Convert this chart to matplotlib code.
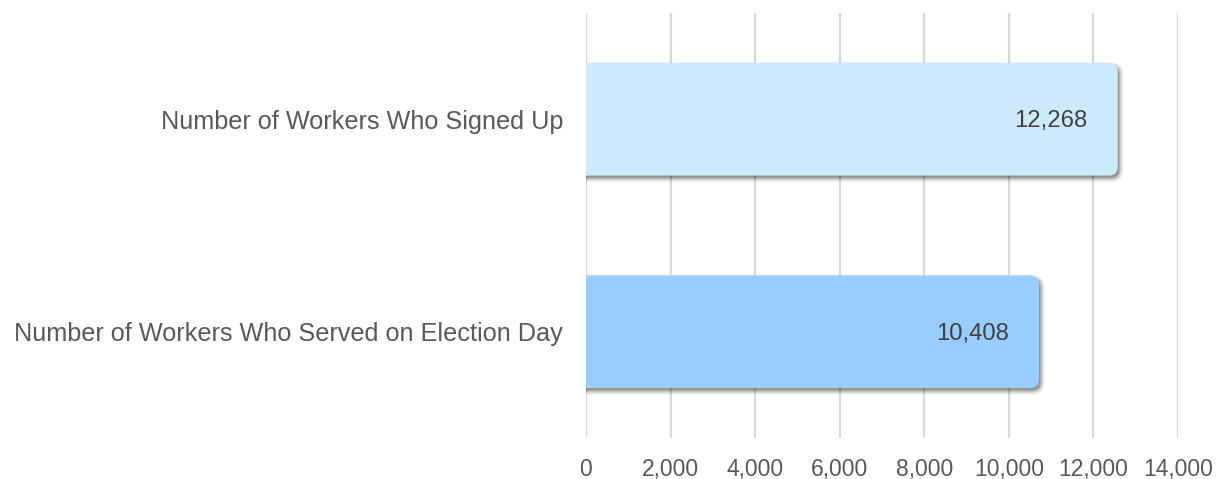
import matplotlib

matplotlib.use("Agg")

import matplotlib.pyplot as plt
from matplotlib.patches import FancyBboxPatch
from matplotlib.ticker import FuncFormatter

CATEGORIES = [
    "Number of Workers Who Signed Up",
    "Number of Workers Who Served on Election Day",
]
VALUES = [12268, 10408]
X_TICKS = [0, 2000, 4000, 6000, 8000, 10000, 12000, 14000]

BAR_COLORS = ["#cdeafd", "#99ccff"]
GRID_COLOR = "#d9d9d9"
LABEL_GREY = "#595959"
VALUE_GREY = "#404040"
SHADOW_GREY = "#000000"

FIG_W, FIG_H, DPI = 12.2, 4.79, 100
AX_RECT = (586 / 1220, 41 / 479, 592 / 1220, 425 / 479)
BAR_HEIGHT = 0.53
CAP_PX = 13        # rounded end cap past the value
RADIUS_PX = 9
CAT_SIZE = 18.2
TICK_SIZE = 16.5
VALUE_SIZE = 17.2

plt.rcParams["font.family"] = ["Liberation Sans", "DejaVu Sans"]

fig = plt.figure(figsize=(FIG_W, FIG_H), dpi=DPI)
ax = fig.add_axes(AX_RECT)
ax.set_xlim(0, 14000)
ax.set_ylim(1.5, -0.5)

# data units per pixel in x and y
ax_w_px = AX_RECT[2] * FIG_W * DPI
ax_h_px = AX_RECT[3] * FIG_H * DPI
x_per_px = 14000 / ax_w_px
y_per_px = 2.0 / ax_h_px
aspect = y_per_px / x_per_px


def rounded_bar(ax, x0, x1, yc, color, dx=0.0, dy=0.0, alpha=1.0, grow=0.0, zorder=3):
    pad = (CAP_PX + grow) * x_per_px
    r = (RADIUS_PX + grow) * x_per_px
    h = BAR_HEIGHT - 2 * CAP_PX * x_per_px * aspect
    patch = FancyBboxPatch(
        (x0 + dx, yc - h / 2 + dy),
        x1 - x0,
        h,
        boxstyle=f"round,pad={pad},rounding_size={r}",
        mutation_aspect=aspect,
        facecolor=color,
        edgecolor="none",
        alpha=alpha,
        zorder=zorder,
    )
    ax.add_patch(patch)


for i, (value, color) in enumerate(zip(VALUES, BAR_COLORS)):
    start = -2000
    # soft drop shadow, layered to fake a blur
    for g, a in [(4.0, 0.03), (3.0, 0.05), (2.0, 0.07), (1.0, 0.09), (0.0, 0.12), (-1.0, 0.14)]:
        rounded_bar(ax, start, value, i, SHADOW_GREY,
                    dx=2 * x_per_px, dy=3 * y_per_px, alpha=a, grow=g, zorder=2)
    rounded_bar(ax, start, value, i, color, zorder=3)
    ax.text(value - 17 * x_per_px, i + 2 * y_per_px, f"{value:,}", ha="right", va="center",
            fontsize=VALUE_SIZE, color=VALUE_GREY, zorder=4)

ax.set_xticks(X_TICKS)
ax.xaxis.set_major_formatter(FuncFormatter(lambda v, _: f"{int(v):,}"))
ax.set_yticks(range(len(CATEGORIES)))
ax.set_yticklabels(CATEGORIES)
ax.tick_params(axis="x", length=0, pad=14.5, labelsize=TICK_SIZE, labelcolor=LABEL_GREY)
ax.tick_params(axis="y", length=0, pad=16.5, labelsize=CAT_SIZE, labelcolor=LABEL_GREY)
ax.grid(axis="x", color=GRID_COLOR, lw=1.6, zorder=0)
ax.set_axisbelow(True)
for spine in ax.spines.values():
    spine.set_visible(False)

fig.savefig("out.png", dpi=DPI, facecolor="white")
